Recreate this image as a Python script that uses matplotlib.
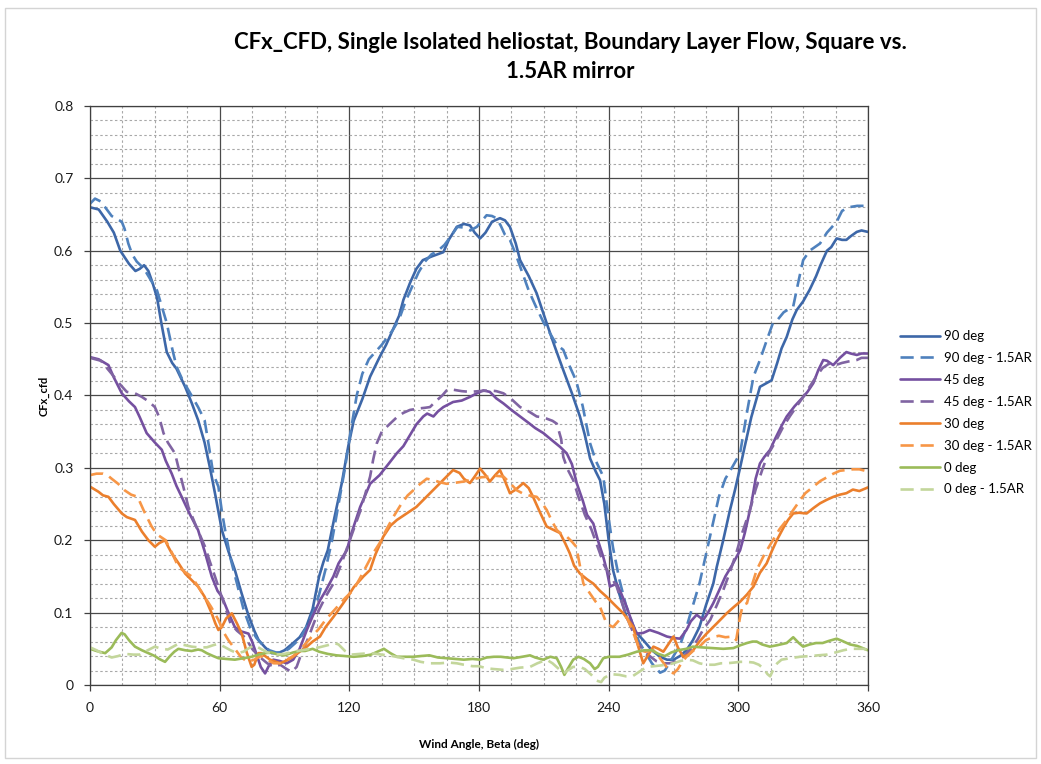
"""
CFx_cfd against wind angle for a single isolated heliostat in boundary layer
flow: square mirror vs. 1.5 aspect-ratio mirror at four elevation angles.
"""
import matplotlib
matplotlib.use("Agg")
import matplotlib.pyplot as plt
from matplotlib.ticker import MultipleLocator
from matplotlib.patches import Rectangle

beta_90 = [0, 4, 8, 11, 14, 18, 21, 23, 25, 27, 29, 31, 33, 35.5, 38, 40, 44, 47, 50, 53,
           55.5, 58, 61, 64, 67, 70, 73, 76, 78, 81, 84, 87, 90, 94, 97, 100, 103, 106, 108,
           110, 113, 116.5, 119.5, 122, 126, 129.6, 134, 137, 140, 143, 145, 148, 151, 154,
           158, 163.5, 166, 169.7, 173, 175.8, 178, 180.5, 183, 186, 189.7, 192, 194.3, 197,
           199, 203, 206.7, 211.3, 215, 219, 223, 226.7, 229, 231.4, 234, 236, 238, 240, 242,
           245, 248.3, 252, 256, 260, 263.8, 267, 270, 273, 276, 279, 282, 285, 288.4, 290,
           293, 296, 298.5, 300.8, 303, 306, 310, 313, 315.4, 318, 320, 322.4, 325, 327, 330,
           333, 336, 338, 341, 343, 345.5, 348, 350, 352, 354.8, 357, 360]
cfx_90 = [0.660, 0.657, 0.640, 0.625, 0.600, 0.582, 0.572, 0.575, 0.580, 0.572, 0.555, 0.535,
          0.500, 0.460, 0.445, 0.437, 0.412, 0.390, 0.366, 0.335, 0.300, 0.262, 0.214, 0.185,
          0.159, 0.128, 0.099, 0.075, 0.062, 0.052, 0.044, 0.044, 0.048, 0.058, 0.066, 0.080,
          0.105, 0.150, 0.170, 0.186, 0.230, 0.279, 0.330, 0.365, 0.395, 0.426, 0.453, 0.470,
          0.490, 0.510, 0.532, 0.555, 0.575, 0.587, 0.592, 0.598, 0.615, 0.633, 0.637, 0.635,
          0.625, 0.617, 0.625, 0.640, 0.645, 0.642, 0.633, 0.610, 0.587, 0.565, 0.541, 0.500,
          0.468, 0.435, 0.403, 0.371, 0.345, 0.313, 0.295, 0.283, 0.250, 0.200, 0.159, 0.125,
          0.094, 0.075, 0.062, 0.048, 0.039, 0.035, 0.035, 0.040, 0.048, 0.062, 0.080, 0.110,
          0.140, 0.163, 0.200, 0.240, 0.270, 0.300, 0.330, 0.370, 0.412, 0.417, 0.421, 0.445,
          0.465, 0.481, 0.505, 0.518, 0.530, 0.546, 0.565, 0.580, 0.600, 0.605, 0.617, 0.615,
          0.615, 0.620, 0.626, 0.628, 0.626]

beta_90ar = [0, 2.3, 5, 7, 10, 14.7, 16, 17.7, 19.5, 21.6, 24, 26, 28, 31, 33.5, 35.5, 38, 40,
             43, 46, 50, 53, 55, 57, 59.4, 61, 62.5, 65, 68, 71, 74, 77, 80, 83, 86, 89, 92,
             95, 98, 101, 104, 106, 109, 112, 115, 118, 120, 123.4, 126, 129, 132, 135, 138,
             140, 143, 146, 149, 152, 155, 158, 161, 164, 167, 170, 173, 176, 179, 181, 183.5,
             186, 188, 190, 192, 194.3, 197, 200, 203, 206, 210, 213, 216, 219, 222, 225, 228,
             231.4, 234, 237.5, 240, 242, 245, 248, 251, 254, 257, 260, 263.8, 266, 268, 270,
             273, 276, 279, 282, 285, 288, 291, 294, 297, 300.8, 303.9, 307, 310, 313,
             316, 318, 321, 325.4, 328, 330, 333, 337.8, 341, 345.5, 348, 351, 355, 360]
cfx_90ar = [0.665, 0.672, 0.668, 0.660, 0.648, 0.640, 0.630, 0.610, 0.595, 0.585, 0.578, 0.570,
            0.560, 0.545, 0.520, 0.500, 0.465, 0.440, 0.420, 0.405, 0.384, 0.366, 0.330, 0.292,
            0.274, 0.240, 0.214, 0.175, 0.140, 0.105, 0.080, 0.065, 0.055, 0.048, 0.045, 0.045,
            0.050, 0.058, 0.068, 0.085, 0.105, 0.125, 0.160, 0.200, 0.250, 0.300, 0.340, 0.400,
            0.430, 0.450, 0.460, 0.470, 0.482, 0.490, 0.505, 0.530, 0.550, 0.570, 0.585, 0.595,
            0.600, 0.608, 0.620, 0.633, 0.632, 0.628, 0.633, 0.640, 0.649, 0.648, 0.645, 0.635,
            0.622, 0.615, 0.595, 0.570, 0.545, 0.525, 0.500, 0.485, 0.470, 0.463, 0.440, 0.420,
            0.385, 0.334, 0.310, 0.288, 0.230, 0.190, 0.145, 0.110, 0.085, 0.060, 0.045, 0.030,
            0.017, 0.020, 0.030, 0.040, 0.055, 0.080, 0.110, 0.140, 0.180, 0.220, 0.260, 0.285,
            0.300, 0.320, 0.375, 0.426, 0.449, 0.475, 0.500, 0.504, 0.515, 0.523, 0.560,
            0.587, 0.600, 0.610, 0.625, 0.640, 0.655, 0.660, 0.662, 0.662]

beta_45 = [0, 4, 8.5, 11, 14.7, 18, 20.8, 23, 26.2, 30, 33.2, 35, 37.8, 40, 42.4, 46, 50, 53,
           56.3, 59, 61, 64, 67, 70, 73.3, 75, 76.4, 79, 81, 83, 84.8, 88, 91, 94, 97, 100.3,
           103, 106.4, 109, 112.6, 115, 118.8, 121, 125, 129.6, 134, 138, 141.9, 145, 148, 151,
           154.2, 156, 158.9, 161, 163.5, 168, 172, 175.8, 179, 182, 185, 188, 191.3, 195, 199,
           203, 206, 209.8, 213, 217.5, 220.6, 223, 225.2, 228, 230, 232.9, 235, 237.5, 239,
           240.6, 243.7, 246, 248.3, 251, 253, 256, 259, 263, 266.9, 270, 273, 276, 278, 280.7,
           283.8, 286, 288.4, 291, 294, 297, 300.8, 303, 306, 308, 310, 312, 314.7, 317, 320,
           322.4, 326, 330, 332, 334.7, 337, 339.3, 341, 343.9, 347, 350, 352, 354.8, 357, 360]
cfx_45 = [0.453, 0.450, 0.442, 0.425, 0.403, 0.392, 0.384, 0.370, 0.348, 0.335, 0.325, 0.310,
          0.292, 0.275, 0.260, 0.237, 0.214, 0.185, 0.150, 0.130, 0.122, 0.100, 0.080, 0.074,
          0.071, 0.060, 0.048, 0.025, 0.016, 0.028, 0.035, 0.033, 0.030, 0.035, 0.050, 0.076,
          0.095, 0.117, 0.130, 0.150, 0.168, 0.186, 0.210, 0.246, 0.278, 0.290, 0.305, 0.320,
          0.330, 0.345, 0.360, 0.371, 0.375, 0.371, 0.378, 0.384, 0.391, 0.393, 0.398, 0.403,
          0.407, 0.405, 0.396, 0.389, 0.380, 0.371, 0.362, 0.355, 0.348, 0.340, 0.329, 0.320,
          0.305, 0.279, 0.255, 0.235, 0.223, 0.200, 0.177, 0.160, 0.136, 0.140, 0.125, 0.108,
          0.085, 0.071, 0.072, 0.076, 0.072, 0.067, 0.065, 0.064, 0.076, 0.088, 0.097, 0.090,
          0.100, 0.113, 0.130, 0.150, 0.165, 0.186, 0.210, 0.250, 0.285, 0.306, 0.315, 0.325,
          0.340, 0.358, 0.371, 0.385, 0.398, 0.405, 0.417, 0.435, 0.449, 0.448, 0.442, 0.452,
          0.460, 0.458, 0.456, 0.458, 0.458]

beta_45ar = [0, 5, 10, 14, 17, 20.8, 24, 27, 30, 32, 34, 36, 39.3, 41.6, 43.5, 45.5, 49, 53.2,
             55.5, 57.8, 60, 62.5, 65, 68, 72, 75, 78, 82, 85, 88, 91, 93.3, 95.6, 98, 101,
             103.5, 106, 109, 112.6, 116, 119, 122, 125, 127, 129.6, 131, 132.7, 135, 138.8,
             142, 145, 148, 152, 155, 157.3, 160, 163, 165, 168, 172, 175.8, 180, 185, 188,
             191.3, 195, 199, 203, 206.7, 209, 211.3, 214, 216, 218, 219, 221, 223.6, 226, 229,
             232, 235, 238, 241, 243.7, 246, 248.3, 251, 253, 256, 259, 262, 265, 268, 271, 275,
             278, 281, 284, 287, 290, 293, 296, 299, 302, 305.4, 308, 311.6, 314, 317, 320.8,
             324, 327, 330, 333, 336, 339, 342, 345, 348, 351, 354.8, 357, 360]
cfx_45ar = [0.452, 0.448, 0.430, 0.415, 0.405, 0.403, 0.398, 0.392, 0.384, 0.370, 0.348, 0.335,
            0.320, 0.292, 0.270, 0.246, 0.220, 0.191, 0.170, 0.150, 0.130, 0.108, 0.085, 0.075,
            0.065, 0.050, 0.040, 0.030, 0.025, 0.028, 0.022, 0.018, 0.025, 0.045, 0.065, 0.085,
            0.104, 0.122, 0.140, 0.165, 0.190, 0.215, 0.240, 0.260, 0.288, 0.311, 0.334, 0.350,
            0.361, 0.370, 0.376, 0.380, 0.382, 0.383, 0.384, 0.392, 0.400, 0.407, 0.408, 0.406,
            0.405, 0.406, 0.407, 0.406, 0.403, 0.395, 0.384, 0.378, 0.371, 0.370, 0.368, 0.365,
            0.361, 0.340, 0.315, 0.298, 0.283, 0.260, 0.235, 0.215, 0.190, 0.165, 0.150, 0.136,
            0.115, 0.094, 0.075, 0.060, 0.048, 0.040, 0.033, 0.030, 0.030, 0.032, 0.040, 0.050,
            0.062, 0.078, 0.090, 0.110, 0.131, 0.155, 0.182, 0.212, 0.242, 0.270, 0.302, 0.320,
            0.335, 0.357, 0.372, 0.385, 0.398, 0.412, 0.426, 0.438, 0.444, 0.442, 0.445, 0.447,
            0.449, 0.452, 0.452]

beta_30 = [0, 3.9, 6, 8.5, 11, 14.7, 17, 20.8, 24, 27, 30, 32, 34.7, 36, 37.8, 41, 44, 47, 50,
           53, 56.3, 58, 59.4, 61, 63, 65.6, 68, 70.2, 72.5, 74.8, 76, 77.9, 79.4, 81, 83.3,
           86, 88, 91, 94, 97, 100.3, 103, 106.4, 109, 112.6, 116, 118.8, 122, 126.5, 129.6,
           132, 135.7, 139, 142, 146, 151, 155, 160.4, 164, 168, 171, 173, 175.8, 178, 180.5,
           183, 185, 187.5, 189.7, 192, 194.3, 197, 200.5, 203, 205, 208, 211.3, 214, 217.5,
           220, 222, 224, 226.7, 230, 232.9, 236, 239, 243, 246.8, 249, 251.4, 253.5, 256, 258,
           260.7, 263, 265.3, 268, 270, 272, 274.5, 277, 279.1, 282, 285.3, 290, 294.6, 298,
           300.8, 304, 307, 310, 313.1, 315.5, 317.8, 321, 323, 325.4, 328, 331.6, 335, 337.8,
           341, 344, 347, 350, 353, 356, 360]
cfx_30 = [0.274, 0.267, 0.262, 0.260, 0.250, 0.237, 0.232, 0.228, 0.212, 0.200, 0.191, 0.196,
          0.200, 0.192, 0.182, 0.168, 0.154, 0.145, 0.136, 0.122, 0.099, 0.085, 0.076, 0.080,
          0.092, 0.099, 0.085, 0.071, 0.045, 0.025, 0.028, 0.044, 0.044, 0.040, 0.035, 0.032,
          0.030, 0.034, 0.039, 0.046, 0.053, 0.060, 0.067, 0.080, 0.094, 0.108, 0.120, 0.135,
          0.150, 0.159, 0.180, 0.205, 0.220, 0.228, 0.236, 0.246, 0.258, 0.274, 0.285, 0.297,
          0.293, 0.285, 0.279, 0.288, 0.299, 0.290, 0.281, 0.290, 0.297, 0.282, 0.265, 0.270,
          0.279, 0.272, 0.260, 0.240, 0.219, 0.215, 0.210, 0.195, 0.182, 0.165, 0.154, 0.146,
          0.140, 0.130, 0.122, 0.110, 0.099, 0.090, 0.080, 0.055, 0.030, 0.040, 0.053, 0.050,
          0.046, 0.058, 0.067, 0.052, 0.039, 0.042, 0.048, 0.060, 0.071, 0.085, 0.099, 0.108,
          0.115, 0.125, 0.136, 0.155, 0.168, 0.185, 0.200, 0.218, 0.228, 0.237, 0.238, 0.237,
          0.245, 0.251, 0.256, 0.260, 0.263, 0.265, 0.270, 0.268, 0.273]

beta_30ar = [0, 3, 6, 8, 10, 13, 16, 19, 22, 25, 28.5, 31, 35, 38, 40.9, 44, 47, 50, 53, 56,
             59.4, 62, 64, 67, 70, 73, 76, 79, 82, 85, 88, 91, 94, 97, 100, 103, 106, 109, 112,
             115, 118, 121.8, 125, 128, 131, 134, 137, 140.3, 144, 147, 149.6, 152, 155.8, 159,
             162, 165, 168, 172.7, 177, 181, 185, 188, 191.3, 194, 197.5, 200, 203, 206.7, 209,
             211.3, 213.5, 216, 218, 220.6, 223, 225, 227, 228.3, 231, 234, 236, 239, 242, 245,
             248.3, 251, 254.5, 257, 260.7, 263, 266, 268, 270, 272, 274, 276, 279, 282, 285,
             288, 291, 294, 297.7, 299, 300.8, 302, 304, 306, 308.5, 312, 316, 319, 322.4, 325,
             328.5, 331, 334.7, 338, 341, 344, 347, 350, 353, 356, 360]
cfx_30ar = [0.290, 0.292, 0.292, 0.290, 0.285, 0.278, 0.269, 0.263, 0.260, 0.240, 0.219, 0.208,
            0.200, 0.182, 0.163, 0.156, 0.150, 0.136, 0.122, 0.108, 0.090, 0.072, 0.062, 0.050,
            0.038, 0.032, 0.035, 0.040, 0.035, 0.030, 0.030, 0.035, 0.040, 0.048, 0.058, 0.068,
            0.078, 0.090, 0.100, 0.110, 0.120, 0.131, 0.148, 0.165, 0.182, 0.196, 0.214, 0.232,
            0.250, 0.262, 0.269, 0.276, 0.285, 0.283, 0.280, 0.278, 0.279, 0.281, 0.284, 0.287,
            0.288, 0.289, 0.288, 0.280, 0.269, 0.265, 0.262, 0.260, 0.252, 0.242, 0.228, 0.214,
            0.209, 0.205, 0.198, 0.191, 0.160, 0.140, 0.128, 0.115, 0.108, 0.085, 0.080, 0.090,
            0.094, 0.075, 0.048, 0.046, 0.048, 0.040, 0.028, 0.020, 0.016, 0.022, 0.032, 0.039,
            0.047, 0.053, 0.062, 0.066, 0.068, 0.066, 0.067, 0.062, 0.094, 0.110, 0.113, 0.135,
            0.159, 0.180, 0.200, 0.215, 0.228, 0.240, 0.255, 0.265, 0.274, 0.282, 0.287, 0.292,
            0.296, 0.297, 0.298, 0.298, 0.295]

beta_0 = [0, 3, 7, 10, 12, 14.6, 16, 18, 20.8, 24, 27, 30, 32, 34.7, 37, 39, 40.9, 44, 47, 50,
          51.7, 54, 57, 59.4, 63, 67, 71, 74.8, 78, 81, 84, 87, 90, 94, 97, 99.5, 103, 106,
          110, 114, 118, 122, 126, 130, 133, 136, 139, 142, 146, 149.6, 153, 157, 161, 165,
          169, 173, 177, 180.5, 183.5, 187, 190, 193, 196, 200, 203.6, 206, 209.7, 213, 216,
          218, 219.5, 221, 223.6, 226, 228.5, 231.4, 233.5, 235, 237.5, 240, 245, 249, 253,
          256.5, 260, 263, 266, 269, 272, 276, 279, 283, 288, 293, 297.7, 301, 304, 306.5,
          308.5, 311, 314.6, 318, 322.4, 325.4, 328, 330, 333, 336, 339, 342, 345.5, 348,
          351.7, 355, 360]
cfx_0 = [0.050, 0.047, 0.044, 0.052, 0.062, 0.072, 0.070, 0.062, 0.053, 0.048, 0.044, 0.040,
         0.036, 0.032, 0.040, 0.046, 0.050, 0.048, 0.047, 0.049, 0.048, 0.044, 0.040, 0.037,
         0.036, 0.035, 0.037, 0.039, 0.042, 0.044, 0.045, 0.042, 0.041, 0.045, 0.047, 0.047,
         0.050, 0.046, 0.043, 0.041, 0.040, 0.039, 0.040, 0.042, 0.046, 0.050, 0.044, 0.039,
         0.039, 0.039, 0.040, 0.041, 0.038, 0.037, 0.036, 0.035, 0.036, 0.035, 0.038, 0.039,
         0.039, 0.038, 0.037, 0.039, 0.041, 0.038, 0.035, 0.039, 0.037, 0.025, 0.014, 0.022,
         0.035, 0.039, 0.036, 0.030, 0.022, 0.025, 0.037, 0.039, 0.039, 0.042, 0.046, 0.048,
         0.048, 0.043, 0.040, 0.045, 0.048, 0.050, 0.053, 0.052, 0.051, 0.050, 0.051, 0.055,
         0.058, 0.060, 0.060, 0.056, 0.053, 0.055, 0.058, 0.066, 0.058, 0.053, 0.056, 0.058,
         0.058, 0.061, 0.064, 0.061, 0.056, 0.054, 0.048]

beta_0ar = [0, 3, 6, 10, 13, 16, 20, 23, 26, 30, 33, 36, 40.9, 44, 47, 50, 54, 57, 59.4, 62,
            65, 68, 71, 73, 76, 79, 82, 86, 90, 94, 98, 102, 106, 110, 113, 115, 118, 121, 125,
            130, 135, 140, 145, 149.6, 153, 157, 162, 166, 169.7, 173, 177, 180, 183.5, 187,
            191, 195, 199, 203.6, 207, 211.3, 214, 217, 219, 221, 223.5, 226.7, 229, 232,
            234.5, 236.5, 238, 241, 245, 248, 251, 254, 257.6, 261, 264, 267, 270, 273, 276,
            279, 282, 285.3, 289, 292, 294.6, 298, 301, 304, 307, 309.5, 311.6, 313.5, 314.7,
            316, 318, 320, 324, 328.5, 333, 337, 341, 345, 348.6, 352, 355, 358, 360]
cfx_0ar = [0.052, 0.048, 0.043, 0.038, 0.040, 0.043, 0.042, 0.042, 0.047, 0.053, 0.050, 0.049,
           0.057, 0.055, 0.053, 0.052, 0.052, 0.055, 0.057, 0.053, 0.048, 0.044, 0.046, 0.050,
           0.055, 0.050, 0.045, 0.042, 0.043, 0.046, 0.048, 0.050, 0.052, 0.055, 0.058, 0.056,
           0.047, 0.042, 0.043, 0.044, 0.042, 0.040, 0.037, 0.035, 0.032, 0.030, 0.030, 0.031,
           0.030, 0.028, 0.026, 0.026, 0.023, 0.022, 0.021, 0.022, 0.024, 0.025, 0.030, 0.035,
           0.030, 0.022, 0.016, 0.020, 0.025, 0.025, 0.022, 0.014, 0.006, 0.004, 0.010, 0.015,
           0.014, 0.012, 0.012, 0.018, 0.025, 0.026, 0.027, 0.028, 0.030, 0.033, 0.035, 0.034,
           0.030, 0.028, 0.028, 0.030, 0.030, 0.031, 0.032, 0.032, 0.031, 0.028, 0.023, 0.015,
           0.012, 0.020, 0.030, 0.035, 0.037, 0.039, 0.040, 0.041, 0.042, 0.045, 0.048, 0.050,
           0.050, 0.050, 0.048]

SERIES = [
    ("90 deg", beta_90, cfx_90, "#3D67A8", "-"),
    ("90 deg - 1.5AR", beta_90ar, cfx_90ar, "#4F81BD", "--"),
    ("45 deg", beta_45, cfx_45, "#7550A0", "-"),
    ("45 deg - 1.5AR", beta_45ar, cfx_45ar, "#8064A2", "--"),
    ("30 deg", beta_30, cfx_30, "#EB7F2C", "-"),
    ("30 deg - 1.5AR", beta_30ar, cfx_30ar, "#F79646", "--"),
    ("0 deg", beta_0, cfx_0, "#9BBB59", "-"),
    ("0 deg - 1.5AR", beta_0ar, cfx_0ar, "#C3D69B", "--"),
]

plt.rcParams["font.family"] = ["Lato", "DejaVu Sans"]

fig = plt.figure(figsize=(10.41, 7.64), dpi=100)
ax = fig.add_axes([0.0865, 0.1034, 0.7473, 0.7579])

for label, x, y, color, style in SERIES:
    kw = dict(color=color, lw=1.9, label=label, solid_joinstyle="round",
              solid_capstyle="round")
    if style == "--":
        kw.update(dashes=(5, 2.6), dash_capstyle="butt")
    ax.plot(x, y, **kw)

ax.set_xlim(0, 360)
ax.set_ylim(0, 0.8)
ax.xaxis.set_major_locator(MultipleLocator(60))
ax.xaxis.set_minor_locator(MultipleLocator(15))
ax.yaxis.set_major_locator(MultipleLocator(0.1))
ax.yaxis.set_minor_locator(MultipleLocator(0.02))
ax.yaxis.set_major_formatter(plt.FuncFormatter(lambda v, _: "0" if v == 0 else f"{v:.1f}"))

ax.grid(which="major", color="#4A4A4A", lw=0.9)
ax.grid(which="minor", color="#A8A8A8", lw=0.8, linestyle=(0, (2.2, 2.2)))
ax.set_axisbelow(True)
ax.tick_params(which="major", direction="out", length=4, width=0.9, colors="#404040",
               labelsize=10, labelcolor="#1A1A1A", pad=8)
ax.tick_params(which="minor", length=0)
for side in ax.spines.values():
    side.set_color("#404040")
    side.set_linewidth(0.9)

ax.set_xlabel("Wind Angle, Beta (deg)", fontsize=8.5, fontweight="bold", labelpad=18)
ax.set_ylabel("CFx_cfd", fontsize=8, fontweight="bold", labelpad=3)

fig.text(0.548, 0.945, "CFx_CFD, Single Isolated heliostat, Boundary Layer Flow, Square vs.",
         ha="center", va="center", fontsize=16, fontweight="bold")
fig.text(0.548, 0.906, "1.5AR mirror", ha="center", va="center", fontsize=16,
         fontweight="bold")

ax.legend(loc="center left", bbox_to_anchor=(1.035, 0.47), frameon=False, fontsize=9.5,
          handlelength=3.0, handletextpad=0.3, labelspacing=0.75, borderaxespad=0)

# thin outer frame around the chart area
fig.patches.append(Rectangle((0.005, 0.008), 0.99, 0.982, transform=fig.transFigure,
                             fill=False, edgecolor="#D4D4D4", lw=1.0))

fig.savefig("out.png", dpi=100, facecolor="white")
